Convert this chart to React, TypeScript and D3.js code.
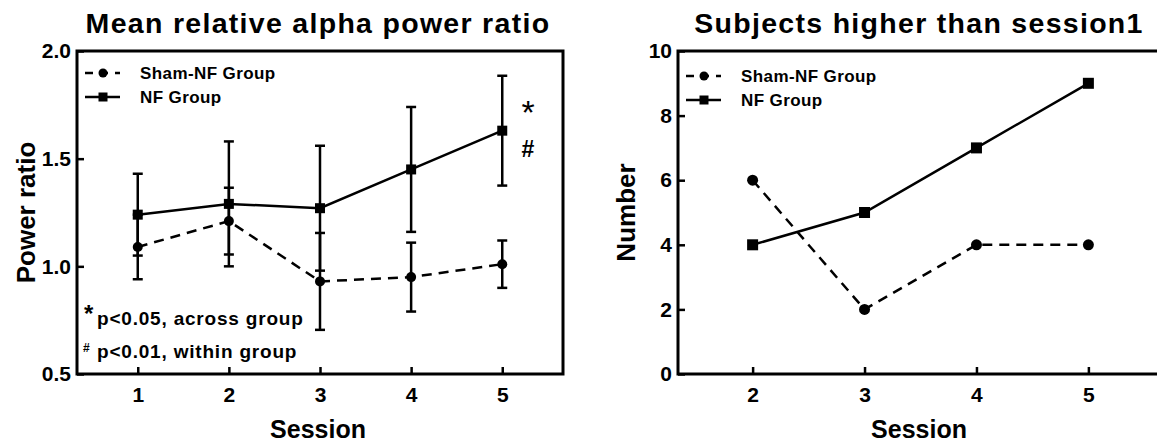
import React, { useEffect, useRef } from "react";
import * as d3 from "d3";

// Left panel: mean relative alpha power ratio (mean with error bars)
const sessionsA = [1, 2, 3, 4, 5];
const shamMeanA = [1.09, 1.21, 0.93, 0.95, 1.01];
const shamErrA = [0.15, 0.155, 0.225, 0.16, 0.11];
const nfMeanA = [1.24, 1.29, 1.27, 1.45, 1.63];
const nfErrA = [0.19, 0.29, 0.29, 0.29, 0.255];
const yTicksA = [0.5, 1.0, 1.5, 2.0];

// Right panel: subjects higher than session 1
const sessionsB = [2, 3, 4, 5];
const shamCountB = [6, 2, 4, 4];
const nfCountB = [4, 5, 7, 9];
const yTicksB = [0, 2, 4, 6, 8, 10];

const legendLabels = ["Sham-NF Group", "NF Group"];
const FONT = "'Liberation Sans', Arial, Helvetica, sans-serif";
const DASH = "10,7";

const drawPanel = (svg, p) => {
  const x = d3.scaleLinear().domain(p.xDomain).range([p.left, p.right]);
  const y = d3.scaleLinear().domain(p.yDomain).range([p.bottom, p.top]);
  const g = svg.append("g").attr("font-family", FONT);

  // titulo
  g.append("text")
    .attr("x", p.titleX)
    .attr("y", 33)
    .attr("text-anchor", "middle")
    .attr("font-size", 28.5)
    .attr("font-weight", "bold")
    .attr("letter-spacing", 1.3)
    .text(p.title);

  // ejes con ticks hacia dentro
  const styleAxis = (a) => {
    a.select(".domain").remove();
    a.attr("font-size", 21).attr("font-family", FONT).attr("font-weight", "bold");
    a.selectAll("line").attr("stroke", "#000").attr("stroke-width", 2.5);
    a.selectAll("text").attr("fill", "#000");
  };

  g.append("g")
    .attr("transform", `translate(${p.left},0)`)
    .call(d3.axisLeft(y).tickValues(p.yTicks).tickSize(-7).tickPadding(6).tickFormat(p.yFormat))
    .call(styleAxis);

  g.append("g")
    .attr("transform", `translate(0,${p.bottom})`)
    .call(d3.axisBottom(x).tickValues(p.xTicks).tickSize(-7).tickPadding(13).tickFormat(d3.format("d")))
    .call(styleAxis);

  // marco
  g.append("rect")
    .attr("x", p.left)
    .attr("y", p.top)
    .attr("width", p.right - p.left)
    .attr("height", p.bottom - p.top)
    .attr("fill", "none")
    .attr("stroke", "#000")
    .attr("stroke-width", 3);

  // etiquetas de ejes
  g.append("text")
    .attr("x", p.titleX)
    .attr("y", 438)
    .attr("text-anchor", "middle")
    .attr("font-size", 25)
    .attr("font-weight", "bold")
    .text("Session");

  g.append("text")
    .attr("transform", `translate(${p.yLabelX},${(p.top + p.bottom) / 2}) rotate(-90)`)
    .attr("text-anchor", "middle")
    .attr("font-size", 26)
    .attr("font-weight", "bold")
    .text(p.yLabel);

  // series (sham primero, NF encima)
  p.series.forEach((s) => {
    const pts = s.xs.map((v, i) => ({ x: v, y: s.ys[i], e: s.err ? s.err[i] : 0 }));

    if (s.err) {
      const eb = g.append("g").attr("stroke", "#000").attr("stroke-width", 2.5);
      pts.forEach((d) => {
        eb.append("line")
          .attr("x1", x(d.x)).attr("x2", x(d.x))
          .attr("y1", y(d.y - d.e)).attr("y2", y(d.y + d.e));
        [d.y - d.e, d.y + d.e].forEach((v) => {
          eb.append("line")
            .attr("x1", x(d.x) - 5).attr("x2", x(d.x) + 5)
            .attr("y1", y(v)).attr("y2", y(v));
        });
      });
    }

    g.append("path")
      .datum(pts)
      .attr("fill", "none")
      .attr("stroke", "#000")
      .attr("stroke-width", 2.5)
      .attr("stroke-dasharray", s.dashed ? DASH : null)
      .attr("d", d3.line().x((d) => x(d.x)).y((d) => y(d.y)));

    pts.forEach((d) => {
      if (s.shape === "circle") {
        g.append("circle").attr("cx", x(d.x)).attr("cy", y(d.y)).attr("r", p.r).attr("fill", "#000");
      } else {
        g.append("rect")
          .attr("x", x(d.x) - p.sq / 2).attr("y", y(d.y) - p.sq / 2)
          .attr("width", p.sq).attr("height", p.sq).attr("fill", "#000");
      }
    });
  });

  // leyenda
  p.legendRows.forEach((rowY, i) => {
    const lx = p.left + 8;
    g.append("line")
      .attr("x1", lx).attr("x2", lx + 35)
      .attr("y1", rowY).attr("y2", rowY)
      .attr("stroke", "#000")
      .attr("stroke-width", 2.5)
      .attr("stroke-dasharray", i === 0 ? "8,7" : null);
    if (i === 0) {
      g.append("circle").attr("cx", lx + 18).attr("cy", rowY).attr("r", 4.5).attr("fill", "#000");
    } else {
      g.append("rect").attr("x", lx + 13.5).attr("y", rowY - 4.5).attr("width", 9).attr("height", 9).attr("fill", "#000");
    }
    g.append("text")
      .attr("x", p.left + 63)
      .attr("y", rowY + 6)
      .attr("font-size", 17)
      .attr("font-weight", "bold")
      .attr("letter-spacing", 0.4)
      .text(legendLabels[i]);
  });

  return g;
};

const App = () => {
  const svgRef = useRef(null);

  useEffect(() => {
    const svg = d3.select(svgRef.current);
    svg.selectAll("*").remove();

    const gA = drawPanel(svg, {
      left: 77, right: 563, top: 51, bottom: 374,
      xDomain: [1 / 3, 17 / 3], yDomain: [0.5, 2.0],
      xTicks: sessionsA, yTicks: yTicksA, yFormat: d3.format(".1f"),
      title: "Mean relative alpha power ratio", titleX: 318,
      yLabel: "Power ratio", yLabelX: 35,
      r: 5, sq: 10,
      legendRows: [73, 97],
      series: [
        { xs: sessionsA, ys: shamMeanA, err: shamErrA, dashed: true, shape: "circle" },
        { xs: sessionsA, ys: nfMeanA, err: nfErrA, dashed: false, shape: "square" },
      ],
    });

    // notas de significancia
    gA.append("text").attr("x", 528).attr("y", 124).attr("text-anchor", "middle")
      .attr("font-size", 34).text("*");
    gA.append("text").attr("x", 528).attr("y", 157).attr("text-anchor", "middle")
      .attr("font-size", 23).attr("font-weight", "bold").text("#");
    gA.append("text").attr("x", 84).attr("y", 322).attr("font-size", 24).attr("font-weight", "bold").text("*");
    gA.append("text").attr("x", 97).attr("y", 325).attr("font-size", 19).attr("font-weight", "bold")
      .attr("letter-spacing", 0.8).text("p<0.05, across group");
    gA.append("text").attr("x", 83).attr("y", 352).attr("font-size", 12).attr("font-weight", "bold").text("#");
    gA.append("text").attr("x", 97).attr("y", 358).attr("font-size", 19).attr("font-weight", "bold")
      .attr("letter-spacing", 0.8).text("p<0.01, within group");

    drawPanel(svg, {
      left: 678, right: 1163, top: 51, bottom: 374,
      xDomain: [4 / 3, 17 / 3], yDomain: [0, 10],
      xTicks: sessionsB, yTicks: yTicksB, yFormat: d3.format("d"),
      title: "Subjects higher than session1", titleX: 919,
      yLabel: "Number", yLabelX: 635,
      r: 5.5, sq: 11,
      legendRows: [76, 100],
      series: [
        { xs: sessionsB, ys: shamCountB, dashed: true, shape: "circle" },
        { xs: sessionsB, ys: nfCountB, dashed: false, shape: "square" },
      ],
    });
  }, []);

  return (
    <div style={{ position: "absolute", left: 0, top: 0, background: "#fff" }}>
      <svg ref={svgRef} width={1157} height={446} style={{ display: "block" }}></svg>
    </div>
  );
};

export default App;
